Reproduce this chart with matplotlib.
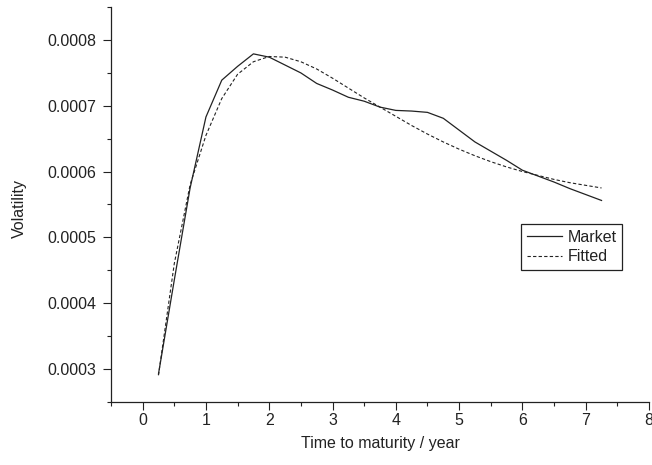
import matplotlib
matplotlib.use("Agg")
import matplotlib.pyplot as plt
from matplotlib.ticker import MultipleLocator, FormatStrFormatter

plt.rcParams['font.family'] = ['Liberation Sans', 'DejaVu Sans']

# maturities in years
maturity = [0.25, 0.5, 0.75, 1.0, 1.25, 1.5, 1.75, 2.0, 2.25, 2.5, 2.75, 3.0,
            3.25, 3.5, 3.75, 4.0, 4.25, 4.5, 4.75, 5.0, 5.25, 5.5, 5.75, 6.0,
            6.25, 6.5, 6.75, 7.0, 7.25]

market = [0.000292, 0.000435, 0.000575, 0.000683, 0.000739, 0.000760, 0.000779,
          0.000774, 0.000762, 0.000750, 0.000734, 0.000724, 0.000713, 0.000707,
          0.000698, 0.000693, 0.000692, 0.000690, 0.000681, 0.000663, 0.000645,
          0.000631, 0.000617, 0.000602, 0.000593, 0.000584, 0.000574, 0.000565,
          0.000556]

fitted = [0.000290, 0.000460, 0.000580, 0.000655, 0.000711, 0.000748, 0.000767,
          0.000775, 0.000774, 0.000767, 0.000756, 0.000742, 0.000727, 0.000712,
          0.000698, 0.000684, 0.000670, 0.000657, 0.000645, 0.000634, 0.000624,
          0.000615, 0.000607, 0.000600, 0.000594, 0.000588, 0.000583, 0.000579,
          0.000575]

ink = '#222222'

fig = plt.figure(figsize=(6.52, 4.65), dpi=100)
ax = fig.add_axes([111 / 652, 1 - 401.6 / 465, 538 / 652, 394.4 / 465])

ax.plot(maturity, market, color=ink, lw=0.9, label='Market')
ax.plot(maturity, fitted, color=ink, lw=0.8, ls=(0, (3, 2)), label='Fitted')

ax.set_xlim(-0.5, 8)
ax.set_ylim(0.00025, 0.00085)

ax.xaxis.set_major_locator(MultipleLocator(1))
ax.xaxis.set_minor_locator(MultipleLocator(0.5))
ax.yaxis.set_major_locator(MultipleLocator(0.0001))
ax.yaxis.set_minor_locator(MultipleLocator(0.00005))
ax.yaxis.set_major_formatter(FormatStrFormatter('%.4f'))

for side in ('top', 'right'):
    ax.spines[side].set_visible(False)
for side in ('left', 'bottom'):
    ax.spines[side].set_color(ink)
    ax.spines[side].set_linewidth(0.9)

ax.tick_params(which='major', direction='out', length=5.5, width=0.8,
               colors=ink, labelsize=11.5)
ax.tick_params(which='minor', direction='out', length=3, width=0.8, colors=ink)
ax.tick_params(axis='x', which='major', pad=3)
ax.tick_params(axis='y', which='major', pad=5)

ax.set_xlabel('Time to maturity / year', fontsize=11.5, color=ink)
ax.xaxis.set_label_coords(0.5, -0.088)
ax.xaxis.label.set_va('top')
ax.set_ylabel('Volatility', fontsize=11.5, color=ink)
ax.yaxis.set_label_coords(-0.156, 0.49)

leg = ax.legend(loc='upper left', bbox_to_anchor=(0.762, 0.4503),
                borderaxespad=0, fontsize=11.5, frameon=True, fancybox=False,
                framealpha=1, edgecolor=ink, borderpad=0.35, labelspacing=0.3,
                handlelength=2.2, handletextpad=0.35)
leg.get_frame().set_linewidth(0.9)
for t in leg.get_texts():
    t.set_color(ink)

fig.savefig('out.png', dpi=100)
